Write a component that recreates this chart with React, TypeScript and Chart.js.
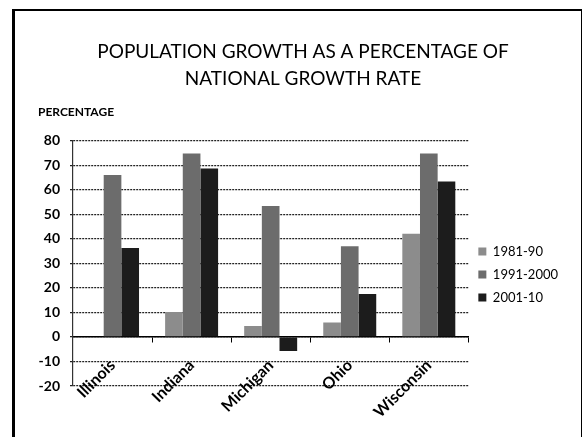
import React, { useEffect, useRef } from "react";
import { Chart, registerables } from "chart.js";

Chart.register(...registerables);

const categories = ["Illinois", "Indiana", "Michigan", "Ohio", "Wisconsin"];
const seriesNames = ["1981-90", "1991-2000", "2001-10"];
const values1981 = [0, 10.2, 4.4, 5.9, 42];
const values1991 = [66, 74.7, 53.3, 36.9, 74.7];
const values2001 = [36.2, 68.6, -5.7, 17.5, 63.3];
const seriesColors = ["#8c8c8c", "#6c6c6c", "#1c1c1c"];
const titleLines = ["POPULATION GROWTH AS A PERCENTAGE OF", "NATIONAL GROWTH RATE"];
const yAxisLabel = "PERCENTAGE";

const FONT = "Lato, 'Open Sans', sans-serif";

export default function App() {
  const ref = useRef<HTMLCanvasElement>(null);
  useEffect(() => {
    document.body.style.margin = "0";
    const all = [values1981, values1991, values2001];
    const chart = new Chart(ref.current!, {
      type: "bar",
      data: {
        labels: categories,
        datasets: seriesNames.map((name, i) => ({
          label: name,
          data: all[i],
          backgroundColor: seriesColors[i],
          borderWidth: 0,
          categoryPercentage: 0.67,
          barPercentage: 1.0,
        })),
      },
      options: {
        responsive: false,
        animation: false,
        layout: { padding: { top: 39, left: 38, right: 14, bottom: 51 } },
        plugins: {
          title: {
            display: true,
            text: titleLines,
            color: "#000",
            font: { family: FONT, size: 19, weight: "normal", lineHeight: 1.4 },
            padding: { top: 0, bottom: 4 },
          },
          subtitle: {
            display: true,
            text: yAxisLabel,
            align: "start",
            color: "#000",
            font: { family: FONT, size: 12, weight: "bold" },
            padding: { top: 9, bottom: 21 },
          },
          legend: {
            position: "right",
            title: {
              display: true,
              text: " ",
              font: { family: FONT, size: 10 },
              padding: { top: 112, bottom: 0 },
            },
            labels: {
              color: "#000",
              font: { family: FONT, size: 13 },
              boxWidth: 8,
              boxHeight: 8,
              padding: 10,
            },
          },
          tooltip: { enabled: false },
        },
        scales: {
          x: {
            position: { y: 0 },
            grid: {
              drawOnChartArea: false,
              drawTicks: true,
              tickLength: 5,
              color: "#000",
            },
            border: { display: true, color: "#000", width: 1.5 },
            ticks: {
              color: "#000",
              font: { family: FONT, size: 16, weight: "bold" },
              maxRotation: 45,
              minRotation: 45,
              padding: 14,
            },
          },
          y: {
            min: -20,
            max: 80,
            afterFit: (scale: any) => {
              scale.width = 35;
            },
            ticks: {
              stepSize: 10,
              color: "#000",
              font: { family: FONT, size: 14, weight: "bold" },
              padding: 10,
            },
            grid: { color: "#222", lineWidth: 1.2, drawTicks: true, tickLength: 3 },
            border: { display: true, color: "#333", width: 1.2, dash: [2, 1] },
          },
        },
      },
    });
    return () => chart.destroy();
  }, []);
  return (
    <div style={{ position: "absolute", left: 0, top: 0, width: 582, height: 437, background: "#fff", overflow: "hidden" }}>
      <div
        style={{
          position: "absolute",
          left: 12,
          top: 9,
          width: 566,
          height: 460,
          borderLeft: "3px solid #000",
          borderTop: "2px solid #000",
          borderRight: "2px solid #000",
        }}
      />
      <canvas ref={ref} width={582} height={437} style={{ position: "absolute", left: 0, top: 0 }} />
    </div>
  );
}
